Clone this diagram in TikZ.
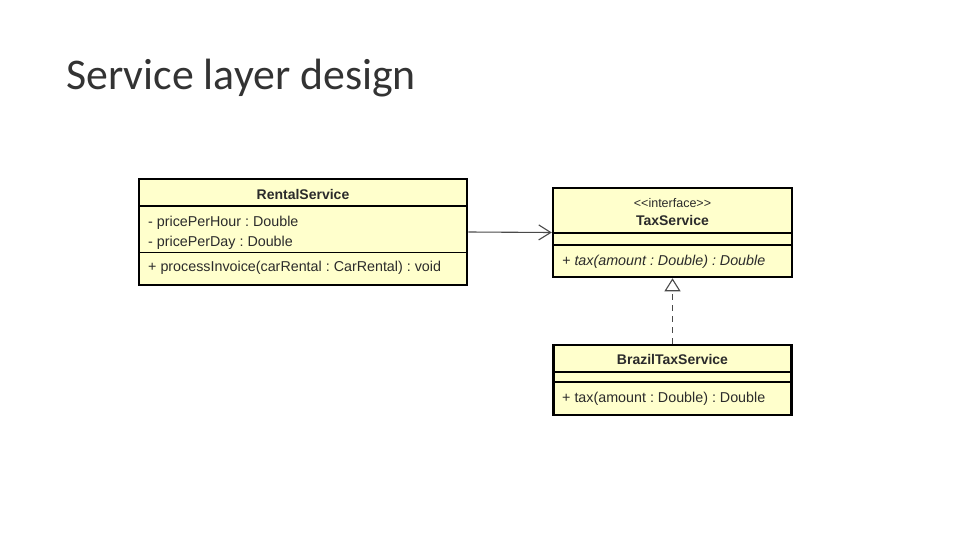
\documentclass[tikz,border=0pt]{standalone}
\usepackage{fontspec}
\setmainfont{Liberation Sans}
\newfontfamily\titlefont{Carlito}
\usetikzlibrary{arrows.meta}
\definecolor{umlfill}{HTML}{FFFFCC}
\definecolor{umltext}{HTML}{2B2B2B}
\definecolor{linegray}{HTML}{4A4A4A}
\definecolor{titlegray}{HTML}{333333}
\tikzset{
  umlbox/.style={draw=black, line width=2.5pt, fill=umlfill, inner sep=0pt, rectangle},
  sepline/.style={draw=black, line width=1.1pt},
  membertext/.style={anchor=base west, inner sep=0pt, text=umltext, font=\frenchspacing\fontsize{14.3}{16}\selectfont},
  nametext/.style={anchor=base, inner sep=0pt, text=umltext, font=\fontsize{14}{16}\selectfont\bfseries},
  stereotext/.style={anchor=base, inner sep=0pt, text=umltext, font=\fontsize{12.5}{14}\selectfont},
  assocline/.style={draw=linegray, line width=1.1pt, -{Straight Barb[length=12pt, width=15pt, line width=1.1pt]}},
  realline/.style={draw=linegray, line width=1.1pt, dash pattern=on 6pt off 5pt, -{Triangle[open, length=13pt, width=16pt, line width=1.1pt, fill=white]}}
}
\begin{document}
\begin{tikzpicture}[x=1pt, y=-1pt]
\useasboundingbox (0,0) rectangle (957,532);
\fill[white] (0,0) rectangle (957,532);
% title
\node[anchor=base west, inner sep=0pt, text=titlegray, font=\titlefont\fontsize{43.8}{50}\selectfont] (title) at (66,90) {Service layer design};

% RentalService
\node[umlbox, minimum width=328pt, minimum height=106pt] (rs) at (303,232) {};
\draw[sepline] (139,206) -- (467,206);
\draw[sepline] (139,252.5) -- (467,252.5);
\node[nametext] (rsname) at (303,199) {RentalService};
\node[membertext] (rsa1) at (148,226) {- pricePerHour : Double};
\node[membertext] (rsa2) at (148,246) {- pricePerDay : Double};
\node[membertext] (rso1) at (148,271) {+ processInvoice(carRental : CarRental) : void};

% TaxService
\node[umlbox, minimum width=239pt, minimum height=89pt] (ts) at (672.5,232.5) {};
\draw[sepline] (553,233) -- (792,233);
\draw[sepline] (553,245) -- (792,245);
\node[stereotext] (tsst) at (672.5,207) {<{}<interface>{}>};
\node[nametext] (tsname) at (672.5,225) {TaxService};
\node[membertext, font=\frenchspacing\fontsize{14.3}{16}\selectfont\itshape] (tso1) at (562,265) {+ tax(amount : Double) : Double};

% BrazilTaxService
\node[umlbox, minimum width=238pt, minimum height=70pt] (bts) at (672.5,380) {};
\draw[sepline] (553,372) -- (791,372);
\draw[sepline] (553,382) -- (791,382);
\node[nametext] (btsname) at (672.5,364) {BrazilTaxService};
\node[membertext] (btso1) at (562,402) {+ tax(amount : Double) : Double};

% connectors
\draw[assocline] (rs.east) -- (ts.west);
\draw[realline] (bts.north) -- (ts.south);
\end{tikzpicture}
\end{document}
